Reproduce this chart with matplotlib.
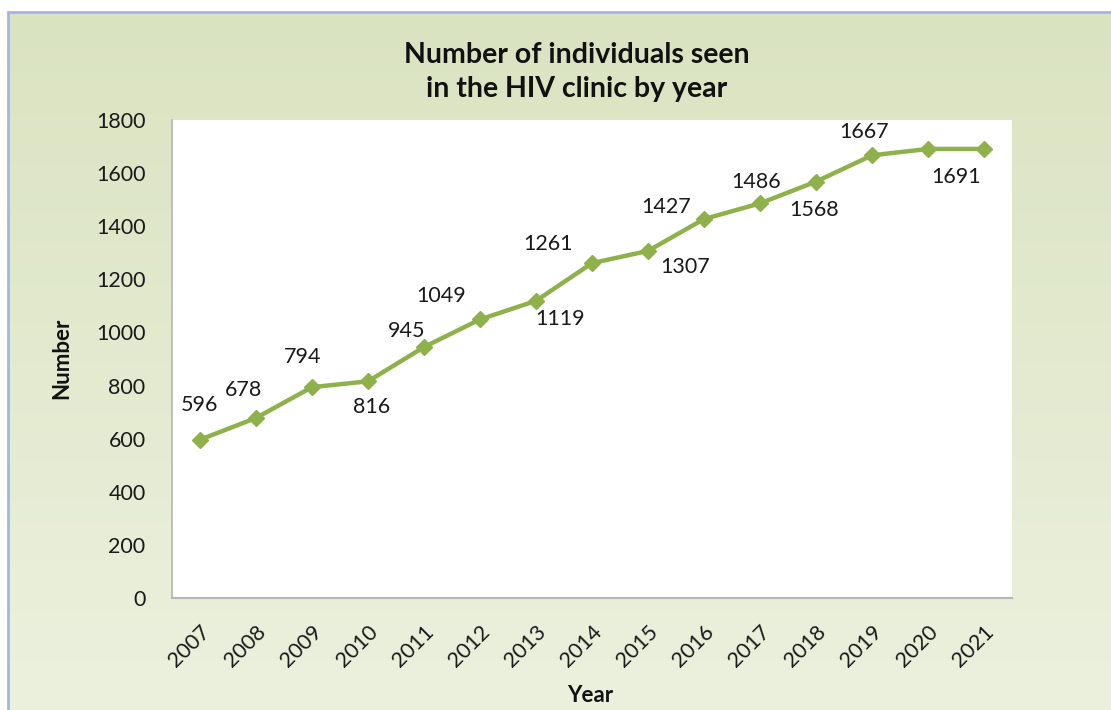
import numpy as np
import matplotlib

matplotlib.use("Agg")
import matplotlib.pyplot as plt
from matplotlib.patches import Rectangle

# === Data ===

years = ["2007", "2008", "2009", "2010", "2011", "2012", "2013", "2014",
         "2015", "2016", "2017", "2018", "2019", "2020", "2021"]
individuals = [596, 678, 794, 816, 945, 1049, 1119, 1261,
               1307, 1427, 1486, 1568, 1667, 1691, 1691]
# data labels as shown (the 2021 point has no visible label)
point_labels = ["596", "678", "794", "816", "945", "1049", "1119", "1261",
                "1307", "1427", "1486", "1568", "1667", "1691", ""]
y_ticks = [0, 200, 400, 600, 800, 1000, 1200, 1400, 1600, 1800]

# label offsets in pixels (dx, dy) relative to each point
label_offsets = [(-1, 35), (-12, 28), (-9, 30), (4, -26), (-17, 16), (-39, 23),
                 (24, -18), (-44, 19), (37, -16), (-38, 12), (-4, 21), (-2, -28),
                 (-8, 23), (28, -28), (0, 0)]

plt.rcParams["font.family"] = ["Lato", "DejaVu Sans"]
FS = 15.5

W, H = 1111, 710
fig = plt.figure(figsize=(W / 100, H / 100), dpi=100)
fig.patch.set_facecolor("white")

# background panel with a soft vertical gradient
bg = fig.add_axes([8 / W, 0, 1 - 8 / W, 1 - 12 / H])
grad = np.linspace(0, 1, 256).reshape(-1, 1)
top = np.array([0.855, 0.89, 0.755])
bot = np.array([0.925, 0.945, 0.87])
img = top + (bot - top) * grad[..., None] * np.ones((1, 1, 3))
bg.imshow(img.reshape(256, 1, 3), aspect="auto", extent=[0, 1, 0, 1])
bg.set_axis_off()
fig.patches.append(Rectangle((8 / W, -0.01), 1.0, 1 - 12 / H + 0.01,
                             transform=fig.transFigure, fill=False,
                             edgecolor="#a4b4e6", linewidth=2))

# plot area
ax = fig.add_axes([172 / W, 1 - 598 / H, (1012 - 172) / W, (598 - 120) / H])
ax.set_facecolor("white")
x = np.arange(len(years))
ax.plot(x, individuals, color="#8fb14c", linewidth=3.2, marker="D",
        markersize=8.5, markeredgecolor="#8fb14c", zorder=3)

for xi, yi, lab, (dx, dy) in zip(x, individuals, point_labels, label_offsets):
    if lab:
        ax.annotate(lab, (xi, yi), xytext=(dx, dy), textcoords="offset pixels",
                    ha="center", va="center", fontsize=FS, color="#1a1a1a")

ax.set_xlim(-0.5, len(years) - 0.5)
ax.set_ylim(0, 1800)
ax.set_yticks(y_ticks)
ax.set_yticklabels([str(t) for t in y_ticks], fontsize=FS, color="#1a1a1a")
ax.set_xticks(x)
ax.set_xticklabels(years, rotation=45, ha="right", rotation_mode="anchor",
                   fontsize=FS, color="#1a1a1a")
ax.tick_params(axis="both", length=0)
ax.tick_params(axis="y", pad=19)
ax.tick_params(axis="x", pad=17)

for side in ["top", "right"]:
    ax.spines[side].set_visible(False)
ax.spines["left"].set_color("#b5b5b5")
ax.spines["bottom"].set_color("#b5b5b5")
ax.spines["left"].set_linewidth(1.2)
ax.spines["bottom"].set_linewidth(1.5)

fig.text(577 / W, 1 - 72 / H, "Number of individuals seen\nin the HIV clinic by year",
         ha="center", va="center", fontsize=20.5, fontweight="bold",
         linespacing=1.4, color="#111111")
fig.text(62 / W, 1 - 358 / H, "Number", rotation=90, ha="center", va="center",
         fontsize=16, fontweight="bold", color="#111111")
fig.text(590 / W, 1 - 695 / H, "Year", ha="center", va="center",
         fontsize=16, fontweight="bold", color="#111111")

fig.savefig("out.png", dpi=100)
